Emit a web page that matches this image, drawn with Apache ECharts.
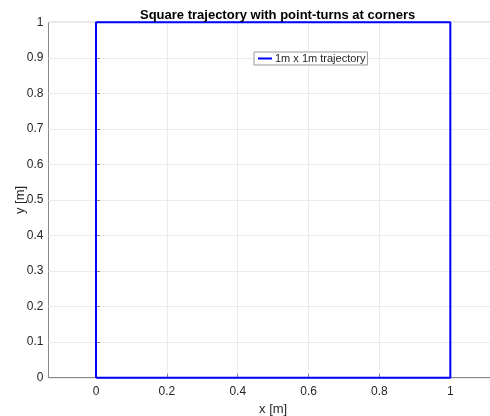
<!DOCTYPE html>
<html><head><meta charset="utf-8">
<script src="https://cdn.jsdelivr.net/npm/echarts@6/dist/echarts.min.js"></script>
<style>html,body{margin:0;padding:0;background:#fff}#c{width:490px;height:416px}</style>
</head><body><div id="c"></div>
<script>
var titleText = 'Square trajectory with point-turns at corners';
var seriesName = '1m x 1m trajectory';
var xPath = [0, 1, 1, 0, 0];
var yPath = [0, 0, 1, 1, 0];
var xTicks = [0, 0.2, 0.4, 0.6, 0.8, 1];
var yTicks = [0, 0.1, 0.2, 0.3, 0.4, 0.5, 0.6, 0.7, 0.8, 0.9, 1];
var xLimits = [-0.134, 1.134];
var yLimits = [0, 1];

var data = xPath.map(function (x, i) { return [x, yPath[i]]; });
var font = 'Liberation Sans, Arial, Helvetica, sans-serif';
var chart = echarts.init(document.getElementById('c'));
chart.setOption({
  animation: false,
  backgroundColor: '#fff',
  title: {
    text: titleText, left: 135, top: 4,
    textStyle: { fontFamily: font, fontSize: 13, fontWeight: 'bold', color: '#000' }
  },
  legend: {
    left: 254, top: 52, orient: 'vertical',
    backgroundColor: '#fff', borderColor: '#999', borderWidth: 1,
    padding: [1, 2, 1, 4], itemGap: 0,
    itemWidth: 14, itemHeight: 2, icon: 'rect',
    textStyle: { fontFamily: font, fontSize: 11, color: '#262626', padding: [0, 0, 0, -2] },
    data: [{ name: seriesName }]
  },
  grid: { left: 48.5, right: -7.8, top: 22.3, bottom: 38.3, containLabel: false, outerBoundsMode: 'none',
    show: true, borderColor: '#888', borderWidth: 1, backgroundColor: '#fff' },
  xAxis: {
    type: 'value', min: xLimits[0], max: xLimits[1],
    name: 'x [m]', nameLocation: 'middle', nameGap: 20,
    nameTextStyle: { fontFamily: font, fontSize: 13, color: '#262626' },
    axisLine: { show: true, lineStyle: { color: '#888', width: 1 } },
    axisTick: { show: true, inside: true, length: 4, customValues: xTicks, lineStyle: { color: '#888' } },
    axisLabel: { customValues: xTicks, fontFamily: font, fontSize: 12, color: '#262626', margin: 8,
      formatter: function (v) { return String(+v.toFixed(2)); } },
    splitLine: { show: true, lineStyle: { color: '#ebebeb', width: 1 } }
  },
  yAxis: {
    type: 'value', min: yLimits[0], max: yLimits[1], interval: 0.1,
    name: 'y [m]', nameLocation: 'middle', nameGap: 22, nameRotate: 90, nameMoveOverlap: false,
    nameTextStyle: { fontFamily: font, fontSize: 13, color: '#262626' },
    axisLine: { show: true, lineStyle: { color: '#888', width: 1 } },
    axisTick: { show: true, inside: true, length: 4, lineStyle: { color: '#888' } },
    axisLabel: { fontFamily: font, fontSize: 12, color: '#262626', margin: 5,
      formatter: function (v) { return String(+v.toFixed(2)); } },
    splitLine: { show: true, lineStyle: { color: '#ebebeb', width: 1 } }
  },
  series: [{
    name: seriesName, type: 'line', data: data, clip: false,
    showSymbol: false, symbol: 'none',
    lineStyle: { color: '#0000ff', width: 2 }, itemStyle: { color: '#0000ff' }
  }]
});
</script></body></html>
